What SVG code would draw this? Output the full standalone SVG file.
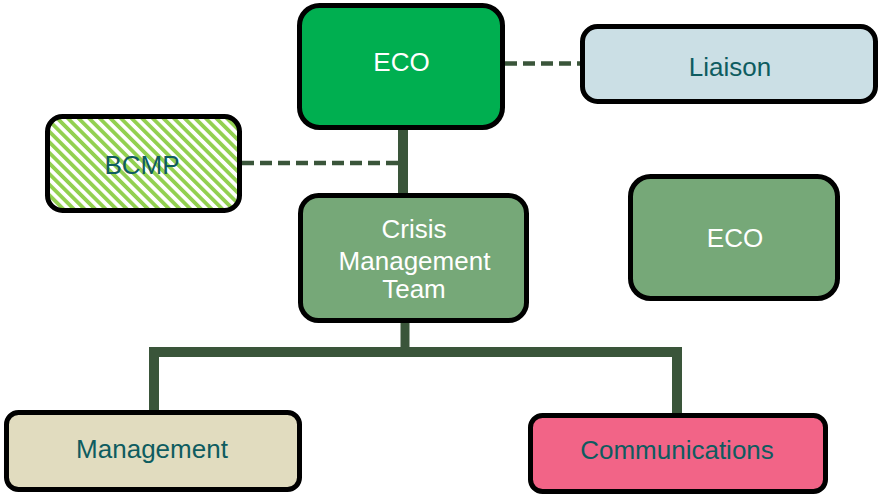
<svg xmlns="http://www.w3.org/2000/svg" width="883" height="495" viewBox="0 0 883 495">
<style>
.box{stroke:#000;stroke-width:5}
.t{font-family:"Liberation Sans",Arial,sans-serif;font-size:26px;text-anchor:middle}
.w{fill:#fff}
.d{fill:#0E5C60}
.solid{stroke:#3A553A;fill:none}
.dash{stroke:#3A553A;stroke-width:4.5;stroke-dasharray:12 6;fill:none}
</style>
<defs>
<pattern id="hatch" patternUnits="userSpaceOnUse" width="7.5" height="7.5" patternTransform="rotate(-45)">
<rect width="7.5" height="7.5" fill="#fff"/>
<rect width="3.8" height="7.5" fill="#92D050"/>
</pattern>
</defs>
<rect width="883" height="495" fill="#fff"/>
<g id="connectors">
<line class="dash" x1="505" y1="63.5" x2="581" y2="63.5"/>
<line class="dash" x1="242" y1="163" x2="399" y2="163"/>
<line class="solid" stroke-width="10" x1="403" y1="128" x2="403" y2="195"/>
<line class="solid" stroke-width="9" x1="405" y1="320" x2="405" y2="352"/>
<polyline class="solid" stroke-width="10" points="154,411 154,352 677,352 677,414"/>
</g>
<g id="eco-top">
<rect class="box" x="299.5" y="5.5" width="203" height="122" rx="20" fill="#00AF50"/>
<text class="t w" x="401.5" y="71">ECO</text>
</g>
<g id="liaison">
<rect class="box" x="582.5" y="26.5" width="293" height="75" rx="15" fill="#CBDFE5"/>
<text class="t d" x="730" y="75.5">Liaison</text>
</g>
<g id="bcmp">
<rect class="box" x="47.5" y="116.5" width="192" height="94" rx="15" fill="url(#hatch)"/>
<text class="t d" x="142" y="174">BCMP</text>
</g>
<g id="cmt">
<rect class="box" x="300.5" y="195.5" width="226" height="125" rx="18" fill="#76A878"/>
<text class="t w" x="414" y="238">Crisis</text>
<text class="t w" x="414.5" y="269.5">Management</text>
<text class="t w" x="414" y="298">Team</text>
</g>
<g id="eco-right">
<rect class="box" x="630.5" y="176.5" width="207" height="122" rx="20" fill="#76A878"/>
<text class="t w" x="735" y="247">ECO</text>
</g>
<g id="management">
<rect class="box" x="6.5" y="412.5" width="293" height="77" rx="12" fill="#E1DCBF"/>
<text class="t d" x="152" y="458">Management</text>
</g>
<g id="communications">
<rect class="box" x="530.5" y="415.5" width="295" height="76" rx="12" fill="#F26487"/>
<text class="t d" x="677" y="459">Communications</text>
</g>
</svg>
